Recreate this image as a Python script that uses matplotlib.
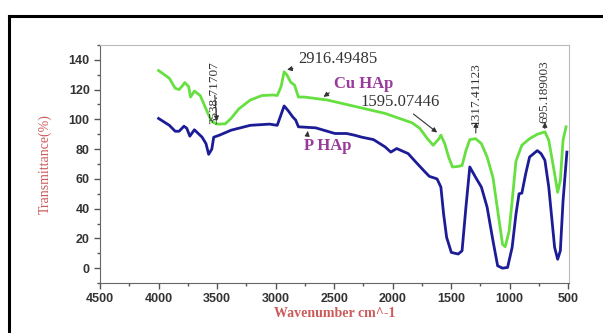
import matplotlib.pyplot as plt
from matplotlib.lines import Line2D
from matplotlib.ticker import MultipleLocator

# Cu HAp (green) trace
cu_x = [4000, 3908, 3858, 3825, 3792, 3776, 3743, 3727, 3694, 3644, 3578, 3545,
        3496, 3430, 3381, 3315, 3216, 3117, 3019, 2986, 2953, 2927, 2904, 2871,
        2838, 2805, 2755, 2558, 2393, 2229, 2064, 1900, 1834, 1768, 1702, 1653,
        1603, 1587, 1554, 1521, 1488, 1439, 1406, 1373, 1340, 1290, 1241, 1192,
        1142, 1093, 1060, 1037, 1004, 978, 945, 895, 829, 763, 698, 665, 615,
        589, 566, 543, 517]
cu_y = [132.8, 127.6, 120.9, 120, 123, 124.7, 122, 115, 119, 116, 104, 98.4,
        96.8, 97, 100.6, 107, 113, 116, 116.4, 116, 122, 132, 130, 125,
        123, 115, 115, 113, 110, 107, 104, 99.5, 97.7, 94, 87, 82.6,
        87, 89.4, 83.7, 74.7, 68, 68.4, 69, 79, 86.4, 87, 83.7, 74.7,
        61, 34, 16, 14.4, 25, 45, 72, 82.6, 87, 90, 91.6, 86, 63.5,
        51, 59, 86, 95]

# P HAp (blue) trace
p_x = [4000, 3908, 3858, 3825, 3783, 3759, 3733, 3694, 3661, 3628, 3595, 3572,
       3545, 3529, 3479, 3381, 3216, 3052, 2986, 2960, 2927, 2894, 2854, 2828,
       2805, 2657, 2493, 2393, 2328, 2262, 2163, 2064, 2015, 1965, 1867, 1801,
       1735, 1686, 1620, 1587, 1564, 1538, 1498, 1439, 1406, 1373, 1340, 1290,
       1241, 1192, 1142, 1102, 1060, 1017, 978, 945, 919, 895, 862, 829, 763,
       731, 698, 665, 615, 589, 566, 543, 510]
p_y = [100.6, 96, 92, 92, 95.4, 94, 88.7, 93, 90.5, 88, 83.7, 76.5,
       80, 88, 89.4, 92.7, 96, 96.8, 96, 101.7, 109, 106, 101.7, 99.5,
       95, 94.3, 90.5, 90.5, 89.4, 88, 86.4, 81.5, 78, 80.4, 77, 71.3,
       65.7, 61.7, 60, 54.5, 36.5, 20.7, 10.6, 9.5, 11.7, 41, 68, 61,
       54.5, 41, 18.5, 1.6, 0, 0.5, 14, 36.5, 50, 50.4, 63.5, 74.7, 79,
       77, 72.5, 54.5, 14, 6, 11.7, 45, 78]

xticks = [4500, 4000, 3500, 3000, 2500, 2000, 1500, 1000, 500]
yticks = [0, 20, 40, 60, 80, 100, 120, 140]

green = '#66e040'
blue = '#1c1c96'
purple = '#9a3a9a'
red = '#cc5a5a'
serif = ['Liberation Serif', 'DejaVu Serif']
sans = ['Liberation Sans', 'DejaVu Sans']

fig = plt.figure(figsize=(6.03, 3.33), dpi=100)
ax = fig.add_axes([0.166, 0.150, 0.778, 0.715])

ax.plot(cu_x, cu_y, color=green, lw=2.0)
ax.plot(p_x, p_y, color=blue, lw=2.0)

ax.set_xlim(4500, 490)
ax.set_ylim(-10, 150)
ax.set_xticks(xticks)
ax.set_yticks(yticks)
ax.xaxis.set_minor_locator(MultipleLocator(250))
ax.yaxis.set_minor_locator(MultipleLocator(10))
ax.tick_params(which='major', direction='out', length=4, width=1, colors='#555555',
               labelcolor='#333333', labelsize=9)
ax.tick_params(which='minor', direction='out', length=2, width=1, colors='#555555')
for lab in ax.get_xticklabels() + ax.get_yticklabels():
    lab.set_family(sans)
    lab.set_fontweight('bold')

for s in ['left', 'bottom']:
    ax.spines[s].set_color('#666666')
for s in ['top', 'right']:
    ax.spines[s].set_color('#bbbbbb')

ax.set_xlabel('Wavenumber cm^-1', family=serif, fontweight='bold', color=red,
              fontsize=10, labelpad=1)
ax.set_ylabel('Transmittance(%)', family=serif, color=red, fontsize=10, labelpad=12)

arrow = dict(arrowstyle='-|>', color='#333333', lw=0.8, mutation_scale=7)
ax.annotate('3538.71707', xy=(3500, 97), xytext=(3522, 118), family=serif,
            fontsize=9.5, rotation=90, ha='center', va='center', color='#333333',
            arrowprops=arrow)
ax.annotate('2916.49485', xy=(2925, 133), xytext=(2805, 140.5), family=serif,
            fontsize=12, ha='left', va='center', color='#333333', arrowprops=arrow)
ax.annotate('1595.07446', xy=(1600, 90), xytext=(2278, 112), family=serif,
            fontsize=12, ha='left', va='center', color='#333333',
            arrowprops=dict(arrowstyle='-|>', color='#333333', lw=0.8,
                            mutation_scale=7, relpos=(0.6, 0)))
ax.annotate('1317.41123', xy=(1290, 102), xytext=(1290, 117.5), family=serif,
            fontsize=9.5, rotation=90, ha='center', va='center', color='#333333')
ax.annotate('', xy=(1285, 100), xytext=(1290, 89), arrowprops=arrow)
ax.annotate('695.189003', xy=(704, 104), xytext=(704, 118.5), family=serif,
            fontsize=9.5, rotation=90, ha='center', va='center', color='#333333')
ax.annotate('', xy=(698, 100), xytext=(698, 92), arrowprops=arrow)
ax.annotate('Cu HAp', xy=(2610, 114), xytext=(2498, 123.5), family=serif,
            fontsize=12, fontweight='bold', ha='left', va='center', color=purple,
            arrowprops=dict(arrowstyle='-|>', color='#333333', lw=0.8,
                            mutation_scale=7, relpos=(0, 0.2)))
ax.annotate('P HAp', xy=(2722, 94), xytext=(2755, 82), family=serif,
            fontsize=12, fontweight='bold', ha='left', va='center', color=purple,
            arrowprops=dict(arrowstyle='-|>', color='#333333', lw=0.8,
                            mutation_scale=7, relpos=(0.05, 0.8)))

# black frame around the picture
fig.add_artist(Line2D([9 / 603, 9 / 603], [0, 1 - 16 / 333], color='black', lw=2.2))
fig.add_artist(Line2D([9 / 603, 1], [1 - 16 / 333, 1 - 16 / 333], color='black', lw=2.2))

fig.savefig('out.png', dpi=100)
